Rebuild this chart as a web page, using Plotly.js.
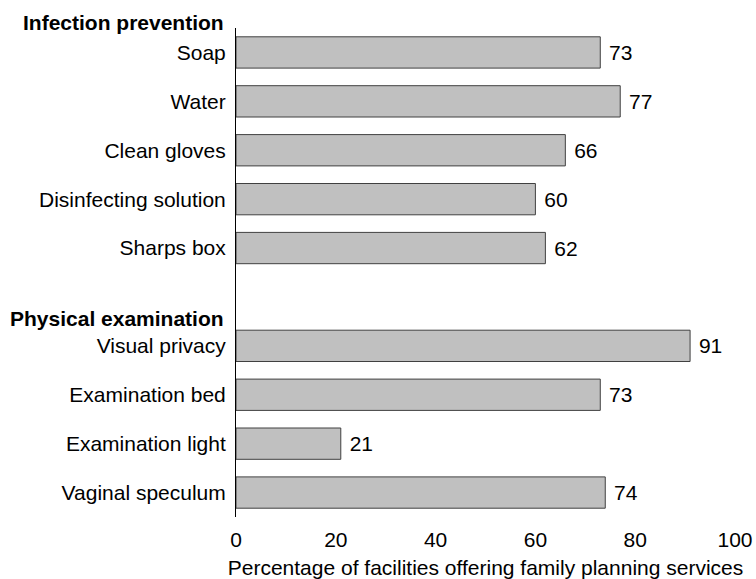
<!DOCTYPE html>
<html>
<head>
<meta charset="utf-8">
<script src="https://cdn.plot.ly/plotly-3.0.1.min.js"></script>
<style>html,body{margin:0;padding:0;background:#fff;}#chart{width:756px;height:579px;}</style>
</head>
<body>
<div id="chart"></div>
<script>
const categories = ["Soap", "Water", "Clean gloves", "Disinfecting solution", "Sharps box",
                    "Visual privacy", "Examination bed", "Examination light", "Vaginal speculum"];
const positions = [0, 1, 2, 3, 4, 6, 7, 8, 9];
const values = [73, 77, 66, 60, 62, 91, 73, 21, 74];
const groupHeaders = ["Infection prevention", "Physical examination"];
const groupHeaderPos = [-0.62, 5.45];
const xTicks = [0, 20, 40, 60, 80, 100];

const font = "Liberation Sans, Arial, sans-serif";
const fs = 21;
const yMin = -0.5, yMax = 9.5;

const trace = {
  type: "bar",
  orientation: "h",
  x: values,
  y: positions,
  width: 0.64,
  marker: { color: "#c0c0c0", line: { color: "#404040", width: 1 } },
  text: values.map(v => "\u00a0" + v),
  textposition: "outside",
  cliponaxis: false,
  textfont: { family: font, size: fs, color: "#000" },
  hoverinfo: "skip"
};

const layout = {
  width: 756, height: 579,
  margin: { l: 236, r: 21, t: 28, b: 62 },
  paper_bgcolor: "#fff", plot_bgcolor: "#fff",
  showlegend: false,
  font: { family: font, size: fs, color: "#000" },
  xaxis: {
    range: [0, 100],
    automargin: false,
    tickvals: xTicks,
    ticktext: xTicks.map(String),
    showgrid: false, zeroline: false, showline: false,
    ticks: "outside", ticklen: 4, tickcolor: "rgba(0,0,0,0)",
    tickfont: { family: font, size: fs, color: "#000" },
    title: { text: "Percentage of facilities offering family planning services", font: { family: font, size: fs, color: "#000" }, standoff: 11 }
  },
  yaxis: {
    range: [yMax, yMin],
    automargin: false,
    tickvals: positions,
    ticktext: categories,
    showgrid: false, zeroline: false,
    showline: true, linecolor: "#000", linewidth: 1,
    ticks: "outside", ticklen: 5, tickcolor: "rgba(0,0,0,0)",
    tickfont: { family: font, size: fs, color: "#000" }
  },
  annotations: groupHeaders.map((h, i) => ({
    text: "<b>" + h + "</b>",
    xref: "paper", yref: "paper",
    x: 0, y: 1 - (groupHeaderPos[i] - yMin) / (yMax - yMin),
    xanchor: "right", yanchor: "middle",
    xshift: -10,
    showarrow: false,
    font: { family: font, size: fs, color: "#000" }
  }))
};

Plotly.newPlot("chart", [trace], layout, { displayModeBar: false, staticPlot: true });
</script>
</body>
</html>
